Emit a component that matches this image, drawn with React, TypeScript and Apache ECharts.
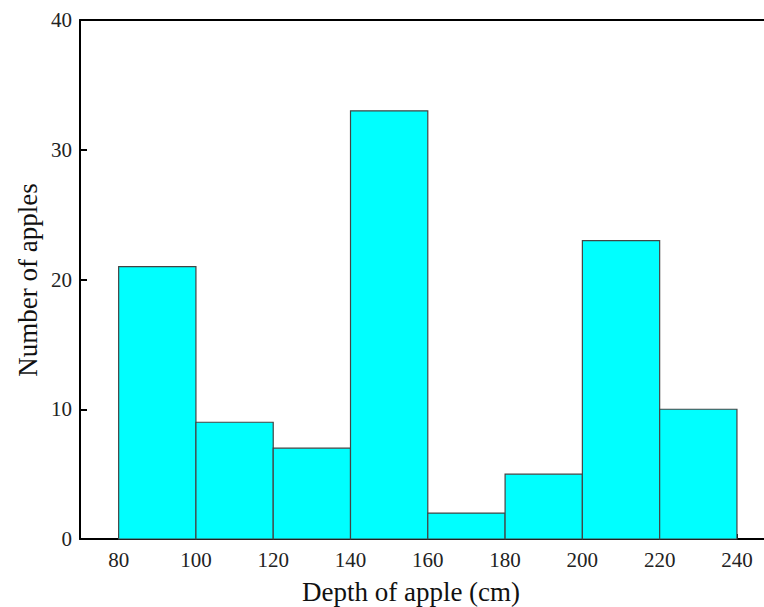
import React, { useEffect, useRef } from "react";
import * as echarts from "echarts";

// Histogram bins (cm) and apple counts per bin
const binStarts = [80, 100, 120, 140, 160, 180, 200, 220];
const binEnds = [100, 120, 140, 160, 180, 200, 220, 240];
const counts = [21, 9, 7, 33, 2, 5, 23, 10];
const xTicks = [80, 100, 120, 140, 160, 180, 200, 220, 240];

const FONT = "'Liberation Serif', 'Times New Roman', serif";

export default function App() {
  const ref = useRef<HTMLDivElement>(null);

  useEffect(() => {
    if (!ref.current) return;
    const chart = echarts.init(ref.current, null, { renderer: "svg" });
    const data = binStarts.map((s, i) => [s, binEnds[i], counts[i]]);

    chart.setOption({
      animation: false,
      backgroundColor: "#ffffff",
      grid: { left: 80, top: 20, right: 0, bottom: 68 },
      xAxis: [
        {
          type: "value",
          min: 70,
          max: 247,
          position: "bottom",
          axisLine: { show: true, onZero: false, lineStyle: { color: "#000", width: 2 } },
          axisTick: {
            show: true,
            inside: true,
            length: 5,
            customValues: xTicks,
            lineStyle: { color: "#000", width: 2 },
          },
          axisLabel: {
            customValues: xTicks,
            margin: 10,
            fontFamily: FONT,
            fontSize: 21,
            color: "#222",
          },
          splitLine: { show: false },
        },
        {
          type: "value",
          min: 70,
          max: 247,
          position: "top",
          axisLine: { show: true, onZero: false, lineStyle: { color: "#000", width: 2 } },
          axisTick: { show: false },
          axisLabel: { show: false },
          splitLine: { show: false },
        },
      ],
      yAxis: {
        type: "value",
        min: 0,
        max: 40,
        interval: 10,
        axisLine: { show: true, onZero: false, lineStyle: { color: "#000", width: 2 } },
        axisTick: { show: true, inside: true, length: 7, lineStyle: { color: "#000", width: 2 } },
        axisLabel: { margin: 8, fontFamily: FONT, fontSize: 21, color: "#222" },
        splitLine: { show: false },
      },
      graphic: [
        {
          type: "text",
          x: 411,
          y: 592,
          style: {
            text: "Depth of apple (cm)",
            font: `27px ${FONT}`,
            fill: "#111",
            align: "center",
            verticalAlign: "middle",
          },
        },
        {
          type: "text",
          x: 28,
          y: 280,
          rotation: Math.PI / 2,
          style: {
            text: "Number of apples",
            font: `27px ${FONT}`,
            fill: "#111",
            align: "center",
            verticalAlign: "middle",
          },
        },
      ],
      series: [
        {
          type: "custom",
          xAxisIndex: 0,
          yAxisIndex: 0,
          data,
          encode: { x: [0, 1], y: 2 },
          renderItem: (params: any, api: any) => {
            const p0 = api.coord([api.value(0), api.value(2)]);
            const p1 = api.coord([api.value(1), 0]);
            return {
              type: "rect",
              shape: { x: p0[0], y: p0[1], width: p1[0] - p0[0], height: p1[1] - p0[1] },
              style: { fill: "#00ffff", stroke: "#444", lineWidth: 1.2 },
            };
          },
        },
      ],
    });

    return () => chart.dispose();
  }, []);

  return (
    <div
      ref={ref}
      style={{ position: "fixed", left: 0, top: 0, width: 764, height: 607 }}
    />
  );
}
